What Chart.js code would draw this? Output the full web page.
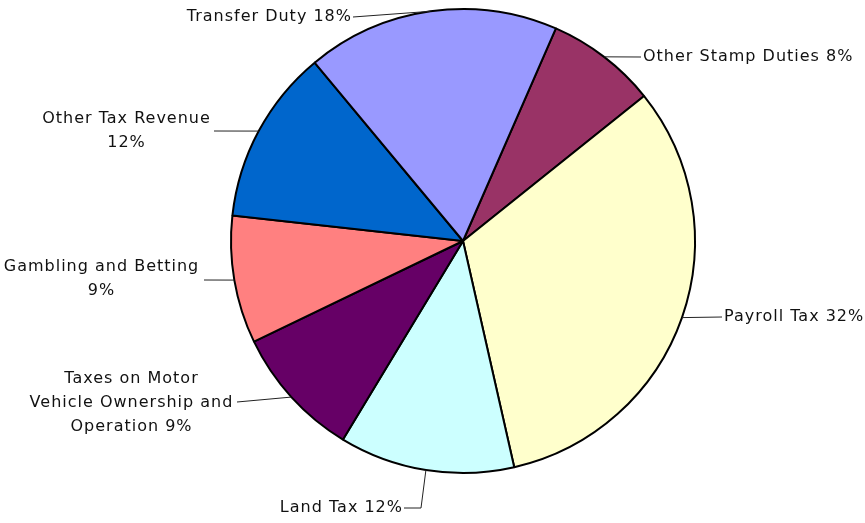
<!DOCTYPE html>
<html>
<head>
<meta charset="utf-8">
<script src="https://cdn.jsdelivr.net/npm/chart.js@4.4.0/dist/chart.umd.min.js"></script>
<style>
  html, body { margin: 0; padding: 0; background: #fff; }
  #wrap { width: 865px; height: 523px; }
</style>
</head>
<body>
<div id="wrap"><canvas id="taxPie"></canvas></div>
<script>
  // slice order runs clockwise, starting just right of 12 o'clock
  var categories = ["Other Stamp Duties", "Payroll Tax", "Land Tax",
    "Taxes on Motor Vehicle Ownership and Operation", "Gambling and Betting",
    "Other Tax Revenue", "Transfer Duty"];
  var shares = [7.7, 32.2, 12.2, 9.2, 8.9, 12.2, 17.6];
  var colours = ["#993366", "#FFFFCC", "#CCFFFF", "#660066", "#FF8080", "#0066CC", "#9999FF"];

  // where each label sits and how its leader line bends ({p} = percentage)
  var labelLayout = [
    { lines: ["Other Stamp Duties {p}"], x: 643, y: 57, align: "left", path: [[641, 57]] },
    { lines: ["Payroll Tax {p}"], x: 724, y: 317, align: "left", path: [[722, 317]] },
    { lines: ["Land Tax {p}"], x: 402, y: 508, align: "right", path: [[421, 508], [404, 508]] },
    { lines: ["Taxes on Motor", "Vehicle Ownership and", "Operation {p}"], x: 131, y: 379, align: "center", path: [[237, 402]] },
    { lines: ["Gambling and Betting", "{p}"], x: 101, y: 267, align: "center", path: [[204, 280]] },
    { lines: ["Other Tax Revenue", "{p}"], x: 126, y: 119, align: "center", path: [[214, 131]] },
    { lines: ["Transfer Duty {p}"], x: 351, y: 17, align: "right", path: [[353, 17]] }
  ];

  var total = shares.reduce(function(a, b) { return a + b; }, 0);

  var leaderLabels = {
    id: "leaderLabels",
    afterDraw: function(chart) {
      var ctx = chart.ctx;
      var arcs = chart.getDatasetMeta(0).data;
      ctx.save();
      ctx.font = "16px 'DejaVu Sans', Verdana, sans-serif";
      ctx.letterSpacing = "1px";
      ctx.fillStyle = "#111";
      ctx.strokeStyle = "#222";
      ctx.lineWidth = 1;
      ctx.textBaseline = "middle";
      arcs.forEach(function(arc, i) {
        var lay = labelLayout[i];
        var pct = Math.round(shares[i] / total * 100) + "%";
        var mid = (arc.startAngle + arc.endAngle) / 2;
        var sx = arc.x + Math.cos(mid) * arc.outerRadius;
        var sy = arc.y + Math.sin(mid) * arc.outerRadius;
        ctx.beginPath();
        ctx.moveTo(sx, sy);
        lay.path.forEach(function(p) { ctx.lineTo(p[0], p[1]); });
        ctx.stroke();
        ctx.textAlign = lay.align;
        lay.lines.forEach(function(t, k) {
          var s = t.replace("{p}", pct);
          var x = lay.x;
          // letterSpacing adds trailing space; shift so edges line up
          if (lay.align === "right") x += 1;
          if (lay.align === "center") x += 0.5;
          ctx.fillText(s, x, lay.y + k * 24);
        });
      });
      ctx.restore();
    }
  };

  new Chart(document.getElementById("taxPie"), {
    type: "pie",
    data: {
      labels: categories,
      datasets: [{
        data: shares,
        backgroundColor: colours,
        borderColor: "#000",
        borderWidth: 2
      }]
    },
    options: {
      responsive: true,
      maintainAspectRatio: false,
      animation: false,
      rotation: 23.6,
      layout: { padding: { left: 200, right: 139, top: 8, bottom: 49 } },
      plugins: {
        legend: { display: false },
        tooltip: { enabled: false }
      }
    },
    plugins: [leaderLabels]
  });
</script>
</body>
</html>
